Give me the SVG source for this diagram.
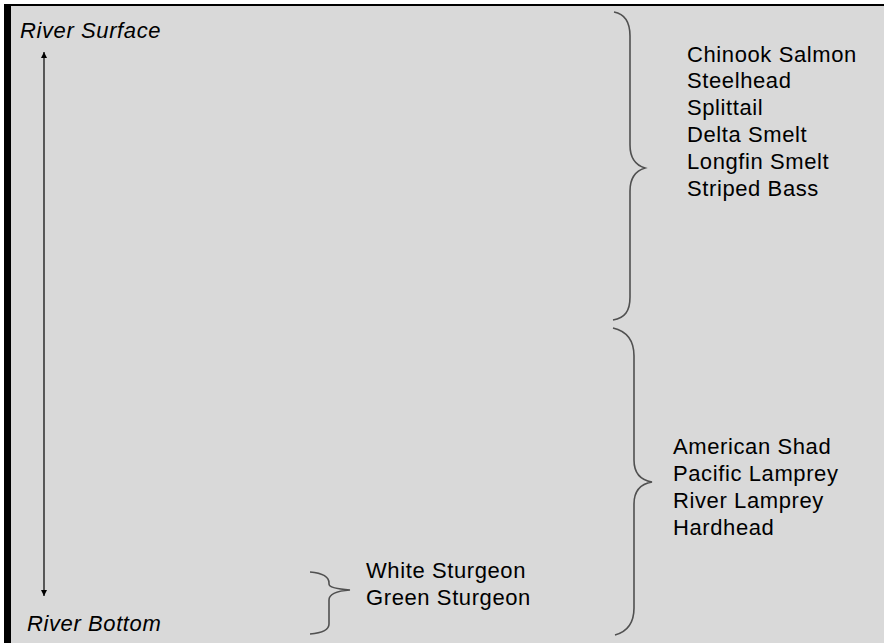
<svg xmlns="http://www.w3.org/2000/svg" width="884" height="643" viewBox="0 0 884 643">
<defs>
<style>
.bg{fill:#d9d9d9}
.lbl{font-family:"Liberation Sans",Arial,sans-serif;font-size:22px;letter-spacing:0.6px;fill:#000}
.it{font-style:italic}
.brace{fill:none;stroke:#505050;stroke-width:1.6}
.axis{stroke:#000;stroke-width:1.2}
</style>
<marker id="ah" viewBox="0 0 6 8" refX="6" refY="4" markerWidth="6" markerHeight="8" markerUnits="userSpaceOnUse" orient="auto-start-reverse">
<path d="M0,1 L6,4 L0,7 Z" fill="#000"/>
</marker>
</defs>
<rect x="0" y="0" width="884" height="643" fill="#fff"/>
<rect class="bg" x="4" y="4" width="880" height="639"/>
<rect x="4" y="4" width="880" height="2" fill="#000"/>
<rect x="4" y="4" width="7" height="639" fill="#000"/>
<g id="connectors">
<line class="axis" x1="44" y1="52" x2="44" y2="596" marker-start="url(#ah)" marker-end="url(#ah)"/>
<path class="brace" d="M614,12 C625,14 630,22 630,36 L630,145 C630,158 635,165 645,168 C635,171 630,178 630,191 L630,297 C630,311 625,318 613,320"/>
<path class="brace" d="M613,328 C626,331 634,340 634,356 L634,460 C634,472 640,480 652,482 C640,484 634,492 634,504 L634,608 C634,624 626,632 615,635"/>
<path class="brace" d="M310,572 C322,573 329,576 329,583 L329,584 C329,587 336,589 350,590 C336,591 329,594 329,600 L329,624 C329,630 322,633 310,634"/>
</g>
<g id="river-surface"><text class="lbl it" x="20" y="38">River Surface</text></g>
<g id="river-bottom"><text class="lbl it" x="27" y="631">River Bottom</text></g>
<g id="upper-fish">
<text class="lbl" x="687" y="62">Chinook Salmon</text>
<text class="lbl" x="687" y="88">Steelhead</text>
<text class="lbl" x="687" y="115">Splittail</text>
<text class="lbl" x="687" y="142">Delta Smelt</text>
<text class="lbl" x="687" y="169">Longfin Smelt</text>
<text class="lbl" x="687" y="196">Striped Bass</text>
</g>
<g id="middle-fish">
<text class="lbl" x="673" y="454">American Shad</text>
<text class="lbl" x="673" y="481">Pacific Lamprey</text>
<text class="lbl" x="673" y="508">River Lamprey</text>
<text class="lbl" x="673" y="535">Hardhead</text>
</g>
<g id="sturgeon">
<text class="lbl" x="366" y="578">White Sturgeon</text>
<text class="lbl" x="366" y="605">Green Sturgeon</text>
</g>
</svg>
